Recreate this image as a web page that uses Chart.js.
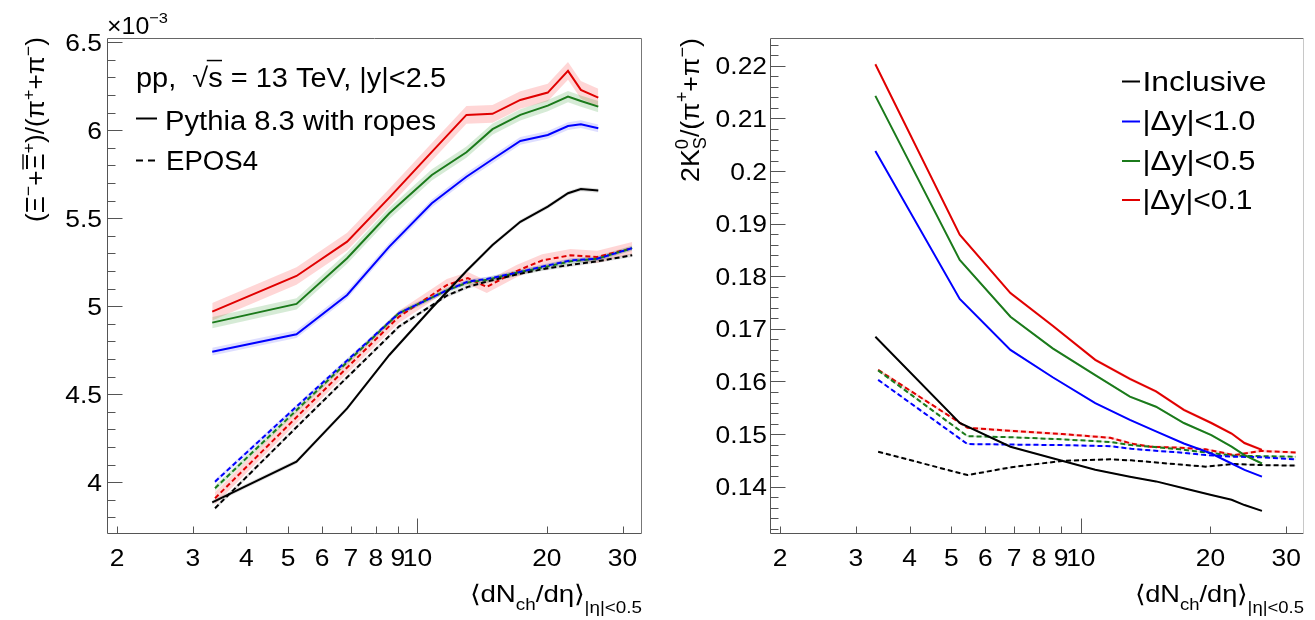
<!DOCTYPE html>
<html><head><meta charset="utf-8">
<script src="https://cdn.jsdelivr.net/npm/chart.js@4.4.1/dist/chart.umd.min.js"></script>
<style>
html,body{margin:0;padding:0;background:#fff;width:1315px;height:620px;overflow:hidden}
canvas{position:absolute;top:0}
</style></head>
<body>
<canvas id="left" width="655" height="620" style="left:0"></canvas>
<canvas id="right" width="660" height="620" style="left:655px"></canvas>
<script>
// ---------------- data ----------------
const pythiaX = [3.33, 5.23, 6.86, 8.6, 10.8, 13.0, 14.95, 17.35, 20.1, 22.4, 24.0, 26.35];
const eposX   = [3.38, 5.45, 6.9, 9.05, 11.7, 13.1, 14.5, 17.0, 19.5, 22.7, 26.2, 31.6];

// (Xi- + anti-Xi+)/(pi+ + pi-), units of 1e-3
const xiPythiaIncl = [3.886, 4.117, 4.42, 4.723, 4.99, 5.2, 5.348, 5.48, 5.566, 5.642, 5.666, 5.657];
const xiPythiaDy10 = [4.742, 4.841, 5.064, 5.339, 5.585, 5.736, 5.835, 5.939, 5.973, 6.024, 6.034, 6.011];
const xiPythiaDy05 = [4.907, 5.013, 5.273, 5.528, 5.746, 5.875, 6.006, 6.087, 6.14, 6.191, 6.166, 6.134];
const xiPythiaDy01 = [4.969, 5.172, 5.367, 5.617, 5.877, 6.087, 6.093, 6.172, 6.214, 6.337, 6.229, 6.185];
const xiEposIncl = [3.852, 4.356, 4.602, 4.884, 5.06, 5.11, 5.14, 5.18, 5.21, 5.235, 5.255, 5.29];
const xiEposDy10 = [4.003, 4.47, 4.698, 4.96, 5.09, 5.14, 5.155, 5.19, 5.225, 5.26, 5.27, 5.33];
const xiEposDy05 = [3.966, 4.451, 4.688, 4.96, 5.09, 5.135, 5.15, 5.19, 5.22, 5.255, 5.27, 5.33];
const xiEposDy01 = [3.909, 4.413, 4.658, 4.94, 5.12, 5.16, 5.11, 5.2, 5.26, 5.29, 5.28, 5.33];
const xiPythiaErr = {incl: 0.012, dy10: 0.022, dy05: 0.032, dy01: 0.05};
const xiEposErr   = {incl: 0.01, dy10: 0.012, dy05: 0.015, dy01: 0.035};

// 2K0S/(pi+ + pi-)
const k0PythiaIncl = [0.1685, 0.1521, 0.1476, 0.1454, 0.1432, 0.1419, 0.1410, 0.1397, 0.1384, 0.1375, 0.1365, 0.1354];
const k0PythiaDy10 = [0.2038, 0.1757, 0.1660, 0.1608, 0.1559, 0.1527, 0.1505, 0.1482, 0.1463, 0.1444, 0.1432, 0.1419];
const k0PythiaDy05 = [0.2143, 0.1831, 0.1723, 0.1663, 0.1612, 0.1571, 0.1552, 0.1521, 0.1498, 0.1476, 0.1460, 0.1444];
const k0PythiaDy01 = [0.2203, 0.1879, 0.1768, 0.1706, 0.1641, 0.1605, 0.1581, 0.1546, 0.1521, 0.1501, 0.1483, 0.1470];
const k0EposIncl = [0.14665, 0.1422, 0.1437, 0.1449, 0.1452, 0.1450, 0.1447, 0.1442, 0.1438, 0.1443, 0.1441, 0.1440];
const k0EposDy10 = [0.1603, 0.1481, 0.1480, 0.1479, 0.1477, 0.1472, 0.1469, 0.1465, 0.1460, 0.1457, 0.1456, 0.1452];
const k0EposDy05 = [0.1621, 0.1496, 0.1494, 0.1490, 0.1485, 0.1479, 0.1476, 0.1471, 0.1465, 0.1459, 0.1458, 0.1457];
const k0EposDy01 = [0.1622, 0.1512, 0.1506, 0.1500, 0.1493, 0.1482, 0.1476, 0.1474, 0.1471, 0.1460, 0.1468, 0.1465];
const k0PythiaErr = {incl: 0.00015, dy10: 0.00015, dy05: 0.0002, dy01: 0.0003};
const k0EposErr   = {incl: 0.0001, dy10: 0.00015, dy05: 0.00015, dy01: 0.00025};

// axes / ticks
const xTickValues = [2, 3, 4, 5, 6, 7, 8, 9, 10, 20, 30];
const xTickLabels = ['2', '3', '4', '5', '6', '7', '8', '9', '10', '20', '30'];
const leftYTicks = [4, 4.5, 5, 5.5, 6, 6.5];
const leftYTickLabels = ['4', '4.5', '5', '5.5', '6', '6.5'];
const rightYTicks = [0.14, 0.15, 0.16, 0.17, 0.18, 0.19, 0.20, 0.21, 0.22];
const rightYTickLabels = ['0.14', '0.15', '0.16', '0.17', '0.18', '0.19', '0.2', '0.21', '0.22'];
const legendLabels = ['Inclusive', '|\u0394y|<1.0', '|\u0394y|<0.5', '|\u0394y|<0.1'];

// ---------------- styles ----------------
const COL = {incl: '#000000', dy10: '#0000ff', dy05: '#1b7a1b', dy01: '#e00000'};
const BAND = {incl: 'rgba(0,0,0,0.13)', dy10: 'rgba(0,0,255,0.13)', dy05: 'rgba(0,128,0,0.16)', dy01: 'rgba(255,0,0,0.16)'};
const FONT = '"Liberation Sans", Arial, Helvetica, sans-serif';

function seriesSets(xs, ys, key, dashed, err) {
  const sets = [];
  if (err > 0) {
    sets.push({data: xs.map((x, i) => ({x, y: ys[i] + err})), borderColor: 'rgba(0,0,0,0)', borderWidth: 0,
      pointRadius: 0, fill: false, order: 10});
    sets.push({data: xs.map((x, i) => ({x, y: ys[i] - err})), borderColor: 'rgba(0,0,0,0)', borderWidth: 0,
      pointRadius: 0, fill: '-1', backgroundColor: BAND[key], order: 10});
  }
  sets.push({data: xs.map((x, i) => ({x, y: ys[i]})), borderColor: COL[key], borderWidth: 2,
    borderDash: dashed ? [5, 3] : [], pointRadius: 0, fill: false, order: 1});
  return sets;
}

// ---------------- rich text ----------------
function segFont(sg, size) {
  const s = size * (sg.scale || ((sg.sup || sg.sub) ? 0.68 : 1));
  return {px: s, font: s.toFixed(2) + 'px ' + FONT};
}
function richWidth(ctx, segs, size) {
  let w = 0;
  for (const sg of segs) { ctx.font = segFont(sg, size).font; if (!sg.stay) w += ctx.measureText(sg.t).width; }
  return w;
}
function drawRich(ctx, segs, o) {
  ctx.save();
  ctx.translate(o.x, o.y);
  if (o.rot) ctx.rotate(o.rot);
  const size = o.size;
  const w = richWidth(ctx, segs, size);
  const k = o.width ? o.width / w : (o.sx || 1);
  ctx.scale(k, 1);
  let cx = o.align === 'right' ? -w : (o.align === 'center' ? -w / 2 : 0);
  ctx.fillStyle = '#000'; ctx.strokeStyle = '#000';
  ctx.textBaseline = 'alphabetic'; ctx.textAlign = 'left';
  for (const sg of segs) {
    const f = segFont(sg, size);
    ctx.font = f.font;
    const dy = sg.dy !== undefined ? sg.dy * size : (sg.sup ? -0.42 * size : (sg.sub ? 0.3 * size : 0));
    ctx.fillText(sg.t, cx, dy);
    const tw = ctx.measureText(sg.t).width;
    if (sg.over) {
      ctx.lineWidth = Math.max(1, size * 0.055);
      ctx.beginPath();
      ctx.moveTo(cx + tw * (sg.ox0 || 0.05), dy - f.px * (sg.oy || 0.84));
      ctx.lineTo(cx + tw * 0.95, dy - f.px * (sg.oy || 0.84));
      ctx.stroke();
    }
    if (!sg.stay) cx += tw;
  }
  ctx.restore();
}

// ---------------- decoration plugin ----------------
function decorPlugin(cfg) {
  return {
    id: 'decor_' + cfg.name,
    afterDraw(chart) {
      const ctx = chart.ctx, a = chart.chartArea, xs = chart.scales.x, ys = chart.scales.y;
      const off = cfg.offset;
      ctx.save();
      // frame
      const L = Math.round(a.left) + 0.5, R = Math.round(a.right) - 0.5, T = Math.round(a.top) + 0.5, B = Math.round(a.bottom) - 0.5;
      ctx.lineWidth = 1;
      ctx.strokeStyle = '#555';
      ctx.beginPath(); ctx.moveTo(L, T); ctx.lineTo(L, B); ctx.lineTo(R, B); ctx.stroke();
      ctx.strokeStyle = '#666';
      ctx.beginPath(); ctx.moveTo(L, T); ctx.lineTo(R, T); ctx.stroke();
      ctx.strokeStyle = cfg.rightEdge;
      ctx.beginPath(); ctx.moveTo(R, T); ctx.lineTo(R, B); ctx.stroke();
      // y ticks
      ctx.strokeStyle = '#555';
      const minorY = [];
      for (let v = cfg.yMinorStart; v <= ys.max + 1e-9; v += cfg.yMinorStep) minorY.push(v);
      ctx.beginPath();
      for (const v of minorY) {
        const isMajor = cfg.yMajor.some(m => Math.abs(m - v) < cfg.yMinorStep / 10);
        const py = Math.round(ys.getPixelForValue(v)) + 0.5;
        ctx.moveTo(L, py); ctx.lineTo(L + (isMajor ? 15 : 8), py);
      }
      // x ticks
      for (const v of xTickValues) {
        const px = Math.round(xs.getPixelForValue(v)) + 0.5;
        ctx.moveTo(px, B); ctx.lineTo(px, B - (v === 10 ? 15 : 7));
      }
      ctx.stroke();
      // tick labels
      cfg.yMajor.forEach((v, i) => {
        const py = ys.getPixelForValue(v);
        drawRich(ctx, [{t: cfg.yLabels[i]}], {x: cfg.yLabelRight - off, y: py + 8.6, size: 24, sx: 1.1, align: 'right'});
      });
      xTickValues.forEach((v, i) => {
        const px = xs.getPixelForValue(v);
        drawRich(ctx, [{t: xTickLabels[i]}], {x: px, y: 566, size: 24, sx: 1.1, align: 'center'});
      });
      // x title
      drawRich(ctx, [{t: '\u27E8dN'}, {t: 'ch', sub: true, dy: 0.33}, {t: '/d\u03B7\u27E9'}, {t: '|\u03B7|<0.5', sub: true, dy: 0.45}],
        {x: cfg.xTitleRight - off, y: 602, size: 24, width: cfg.xTitleWidth, align: 'right'});
      cfg.extra(ctx, off);
      ctx.restore();
    }
  };
}

function makeChart(id, datasets, yMin, yMax, xMax, padding, plugin) {
  return new Chart(document.getElementById(id), {
    type: 'line',
    data: {datasets},
    options: {
      responsive: false, animation: false, events: [],
      layout: {padding},
      plugins: {legend: {display: false}, tooltip: {enabled: false}},
      elements: {line: {tension: 0}, point: {radius: 0}},
      scales: {
        x: {type: 'logarithmic', min: 1.895, max: xMax, display: false},
        y: {type: 'linear', min: yMin, max: yMax, display: false}
      }
    },
    plugins: [plugin]
  });
}

// ---------------- left chart ----------------
const leftSets = [].concat(
  seriesSets(pythiaX, xiPythiaIncl, 'incl', false, xiPythiaErr.incl),
  seriesSets(pythiaX, xiPythiaDy10, 'dy10', false, xiPythiaErr.dy10),
  seriesSets(pythiaX, xiPythiaDy05, 'dy05', false, xiPythiaErr.dy05),
  seriesSets(pythiaX, xiPythiaDy01, 'dy01', false, xiPythiaErr.dy01),
  seriesSets(eposX, xiEposIncl, 'incl', true, xiEposErr.incl),
  seriesSets(eposX, xiEposDy10, 'dy10', true, xiEposErr.dy10),
  seriesSets(eposX, xiEposDy05, 'dy05', true, xiEposErr.dy05),
  seriesSets(eposX, xiEposDy01, 'dy01', true, xiEposErr.dy01)
);
makeChart('left', leftSets, 3.706, 6.524, 33.3, {left: 107, top: 38, right: 13, bottom: 86},
  decorPlugin({
    name: 'left', offset: 0, rightEdge: '#777',
    yMajor: leftYTicks, yLabels: leftYTickLabels, yMinorStart: 3.8, yMinorStep: 0.1,
    yLabelRight: 102, xTitleRight: 642, xTitleWidth: 172,
    extra(ctx, off) {
      // exponent
      drawRich(ctx, [{t: '\u00D710'}, {t: '\u22123', sup: true, dy: -0.44, scale: 0.66}],
        {x: 107, y: 33.5, size: 23, width: 61, align: 'left'});
      // y title
      drawRich(ctx, [{t: '('}, {t: '\u039E'}, {t: '\u2212', sup: true}, {t: '+'}, {t: '\u039E', over: true},
        {t: '+', sup: true}, {t: ')/(\u03C0'}, {t: '+', sup: true}, {t: '+\u03C0'}, {t: '\u2212', sup: true}, {t: ')'}],
        {x: 44, y: 37, size: 25, width: 185, align: 'right', rot: -Math.PI / 2});
      // legend text
      drawRich(ctx, [{t: 'pp,  '}, {t: '\u221A'}, {t: 's', over: true, oy: 0.98, ox0: -0.1}, {t: ' = 13 TeV, |y|<2.5'}],
        {x: 136, y: 87, size: 27, width: 310, align: 'left'});
      ctx.strokeStyle = '#000'; ctx.lineWidth = 2; ctx.setLineDash([]);
      ctx.beginPath(); ctx.moveTo(136, 118.5); ctx.lineTo(157, 118.5); ctx.stroke();
      drawRich(ctx, [{t: 'Pythia 8.3 with ropes'}], {x: 165, y: 130, size: 27, width: 271, align: 'left'});
      ctx.setLineDash([7, 5]);
      ctx.beginPath(); ctx.moveTo(136, 160.5); ctx.lineTo(157, 160.5); ctx.stroke();
      ctx.setLineDash([]);
      drawRich(ctx, [{t: 'EPOS4'}], {x: 166, y: 170, size: 27, width: 92, align: 'left'});
    }
  }));

// ---------------- right chart ----------------
const rightSets = [].concat(
  seriesSets(pythiaX, k0PythiaIncl, 'incl', false, k0PythiaErr.incl),
  seriesSets(pythiaX, k0PythiaDy10, 'dy10', false, k0PythiaErr.dy10),
  seriesSets(pythiaX, k0PythiaDy05, 'dy05', false, k0PythiaErr.dy05),
  seriesSets(pythiaX, k0PythiaDy01, 'dy01', false, k0PythiaErr.dy01),
  seriesSets(eposX, k0EposIncl, 'incl', true, k0EposErr.incl),
  seriesSets(eposX, k0EposDy10, 'dy10', true, k0EposErr.dy10),
  seriesSets(eposX, k0EposDy05, 'dy05', true, k0EposErr.dy05),
  seriesSets(eposX, k0EposDy01, 'dy01', true, k0EposErr.dy01)
);
makeChart('right', rightSets, 0.131, 0.2253, 33.0, {left: 115, top: 38, right: 11, bottom: 86},
  decorPlugin({
    name: 'right', offset: 655, rightEdge: '#c8c8c8',
    yMajor: rightYTicks, yLabels: rightYTickLabels, yMinorStart: 0.132, yMinorStep: 0.002,
    yLabelRight: 767, xTitleRight: 1304, xTitleWidth: 169,
    extra(ctx, off) {
      drawRich(ctx, [{t: '2K'}, {t: '0', sup: true, stay: true, dy: -0.44}, {t: 'S', sub: true, dy: 0.28},
        {t: '/(\u03C0'}, {t: '+', sup: true}, {t: '+\u03C0'}, {t: '\u2212', sup: true}, {t: ')'}],
        {x: 699 - off, y: 38, size: 26, width: 144, align: 'right', rot: -Math.PI / 2});
      const keys = ['incl', 'dy10', 'dy05', 'dy01'];
      const lineY = [81.5, 121.5, 161, 200];
      const baseY = [91, 130, 169.5, 208.5];
      const widths = [124, 113, 113, 110];
      keys.forEach((k, i) => {
        ctx.strokeStyle = COL[k]; ctx.lineWidth = 2; ctx.setLineDash([]);
        ctx.beginPath(); ctx.moveTo(1122 - off, lineY[i]); ctx.lineTo(1140 - off, lineY[i]); ctx.stroke();
        drawRich(ctx, [{t: legendLabels[i]}], {x: 1142.5 - off, y: baseY[i], size: 28, width: widths[i], align: 'left'});
      });
    }
  }));
</script>
</body></html>
